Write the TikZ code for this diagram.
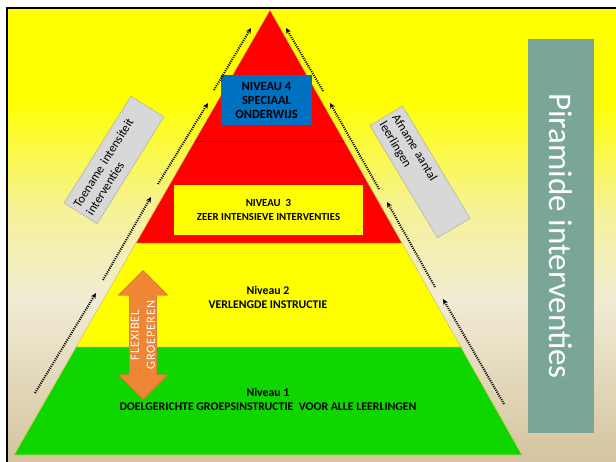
\documentclass[tikz,border=0pt]{standalone}
\usepackage{fontspec}
\setmainfont{Carlito}
\usepackage{tikz}
\usetikzlibrary{calc,arrows.meta,shapes.arrows}
\definecolor{lvlgreen}{RGB}{16,214,0}
\definecolor{lvlyellow}{RGB}{255,255,0}
\definecolor{lvlred}{RGB}{255,0,0}
\definecolor{lvlblue}{RGB}{0,112,192}
\definecolor{boxgray}{RGB}{216,216,216}
\definecolor{boxedge}{RGB}{165,165,165}
\definecolor{titleteal}{RGB}{122,166,154}
\definecolor{flexorange}{RGB}{238,134,54}
\definecolor{flexedge}{RGB}{214,110,40}
\definecolor{layeredge}{RGB}{214,200,96}
\definecolor{bgbeige}{RGB}{214,198,162}
\definecolor{bgcream}{RGB}{241,236,212}
\definecolor{bgpale}{RGB}{246,242,150}
\pgfdeclareverticalshading{backdrop}{100bp}{color(0bp)=(bgbeige); color(26bp)=(bgbeige);
  color(43bp)=(bgcream); color(53bp)=(bgpale); color(65bp)=(lvlyellow); color(100bp)=(lvlyellow)}
\tikzset{
  layer/.style={draw=layeredge, line width=0.6pt},
  lvltext/.style={align=center, inner sep=0pt, font=\fontsize{11.8}{14}\selectfont\bfseries},
  sidebox/.style={draw=boxedge, fill=boxgray, align=left, inner xsep=4pt, inner ysep=2pt,
    font=\fontsize{12.5}{15}\selectfont},
  titlebox/.style={fill=titleteal, text=white, inner sep=0pt, font=\fontsize{33}{38}\selectfont},
  flexarrow/.style={double arrow, fill=flexorange, draw=flexedge, line width=0.4pt, text=white,
    align=center, inner sep=1.5pt, double arrow head extend=11pt, double arrow tip angle=90,
    font=\fontsize{12.5}{16}\selectfont\addfontfeature{LetterSpace=6}},
  dotarrow/.style={line width=2pt, dash pattern=on 1pt off 1.2pt, -{Stealth[length=5.5pt,width=5pt]}}
}

\begin{document}
\begin{tikzpicture}[x=1pt, y=-1pt]
  \useasboundingbox (0,0) rectangle (616,462);
  \fill[white] (0,0) rectangle (616,462);
  \shade[shading=backdrop] (7,8) rectangle (616,462);
  \draw[line width=2pt] (7,462) -- (7,8) -- (616,8);

  % pyramid
  \coordinate (top) at (270,10);
  \coordinate (baseL) at (14,455);
  \coordinate (baseR) at (522,455);
  \coordinate (g1L) at ($(top)!0.757!(baseL)$);
  \coordinate (g1R) at ($(top)!0.757!(baseR)$);
  \coordinate (g2L) at ($(top)!0.524!(baseL)$);
  \coordinate (g2R) at ($(top)!0.524!(baseR)$);
  \coordinate (g3L) at ($(top)!0.294!(baseL)$);
  \coordinate (g3R) at ($(top)!0.294!(baseR)$);
  \filldraw[layer, fill=lvlgreen] (baseL) -- (baseR) -- (g1R) -- (g1L) -- cycle;
  \filldraw[layer, fill=lvlyellow] (g1L) -- (g1R) -- (g2R) -- (g2L) -- cycle;
  \filldraw[layer, fill=lvlred] (g2L) -- (g2R) -- (top) -- cycle;
  \draw[red!70!black, line width=0.6pt] (g3L) -- (g3R);

  % levels
  \node[lvltext] (lvl1) at (268,399) {Niveau 1\\DOELGERICHTE GROEPSINSTRUCTIE\ \ VOOR ALLE LEERLINGEN};
  \node[lvltext] (lvl2) at (268,297) {Niveau 2\\VERLENGDE INSTRUCTIE};
  \node[lvltext, font=\fontsize{10.8}{14}\selectfont\bfseries, fill=lvlyellow,
    minimum width=189pt, minimum height=50pt] (lvl3) at (268.5,210)
    {NIVEAU\ \ 3\\ZEER INTENSIEVE INTERVENTIES};
  \node[lvltext, font=\fontsize{12.5}{14}\selectfont\bfseries, fill=lvlblue,
    minimum width=91pt, minimum height=50pt] (lvl4) at (266.5,100)
    {NIVEAU 4\\SPECIAAL\\ONDERWIJS};

  % dotted arrows
  \foreach \name/\x/\y in {ua1/35/393, ub1/96/293, ua2/103/280, ub2/151/197,
                           ua3/158/184, ub3/208/103, ua4/214/90, ub4/251/28,
                           da1/504/404, db1/443/299, da2/435/287, db2/387/202,
                           da3/379/189, db3/330/103, da4/323/91, db4/286/28}
    \coordinate (\name) at (\x,\y);
  \foreach \s/\e in {ua1/ub1, ua2/ub2, ua3/ub3, ua4/ub4, da1/db1, da2/db2, da3/db3, da4/db4}
    \draw[dotarrow] (\s) -- (\e);

  % side labels
  \node[sidebox, rotate=58, text width=118pt, minimum height=39pt] (toename) at (114,160)
    {Toename intensiteit\\interventies};
  \node[sidebox, rotate=-59, text width=123pt, minimum height=38pt] (afname) at (420,172)
    {Afname aantal\\leerlingen};
  \node[titlebox, rotate=-90, minimum width=394pt, minimum height=66pt] (titel) at (561,236)
    {Piramide interventies};

  % flexible grouping
  \node[flexarrow, rotate=90, minimum height=129pt] (flex) at (143,335) {FLEXIBEL\\GROEPEREN};
\end{tikzpicture}
\end{document}
